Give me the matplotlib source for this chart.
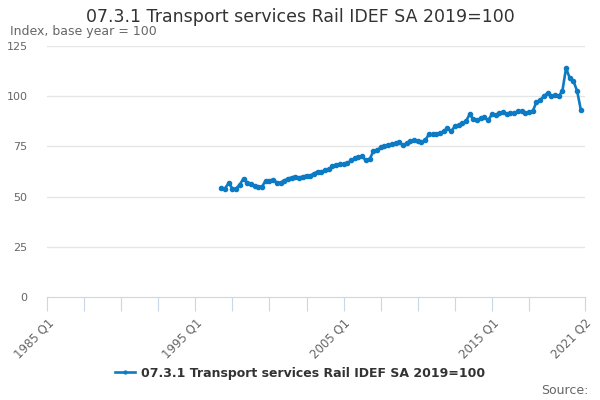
import matplotlib
matplotlib.use("Agg")
import matplotlib.pyplot as plt

# ================= DATA =================
title = "07.3.1 Transport services Rail IDEF SA 2019=100"
subtitle = "Index, base year = 100"

# quarterly categories 1985 Q1 .. 2021 Q2
years = list(range(1985, 2022))
quarters = ["Q1", "Q2", "Q3", "Q4"]
categories = [f"{y} {q}" for y in years for q in quarters][:146]

# series starts at 1996 Q4 (category index 47)
first_index = 47
values = [
    54.3, 54, 56.8, 54, 54, 56, 59, 57, 56.5, 55.5,
    55, 55, 58, 58, 58.5, 57, 57, 58, 59, 59.5,
    60, 59.5, 60, 60.5, 60.5, 61.5, 62.5, 62.5, 63, 63.5,
    65, 65.5, 66, 66, 66.5, 68, 69, 69.5, 70, 68,
    68.5, 72.5, 73, 74.5, 75, 75.5, 76, 76.5, 77, 75.5,
    76.5, 77.5, 78, 77.5, 77, 78, 81, 81, 81, 81.5,
    82.5, 84, 82.5, 85, 85.5, 86.5, 87.5, 91, 88.5, 88,
    89, 89.5, 88, 91, 90.5, 91.5, 92, 91, 91.5, 91.5,
    92.5, 92.5, 91.5, 92, 92.5, 97, 98, 100, 101.5, 100,
    100.5, 100, 102.5, 114, 109, 107.5, 102.5, 93,
]

tick_idx = [0, 10, 20, 30, 40, 50, 60, 70, 80, 90, 100, 110, 120, 130, 145]
label_idx = [0, 40, 80, 120, 145]
y_ticks = [0, 25, 50, 75, 100, 125]

# ================= PLOT =================
line_color = "#0c7bc4"
grey = "#666666"

fig = plt.figure(figsize=(6, 4), dpi=100)
ax = fig.add_axes([47 / 600, 103 / 400, (584.6 - 47) / 600, 251 / 400])

xs = list(range(first_index, first_index + len(values)))
ax.plot(xs, values, color=line_color, linewidth=1.9, marker="o", markersize=3,
        label=title, zorder=3)

ax.set_xlim(0, len(categories) - 1)
ax.set_ylim(0, 125)

ax.set_yticks(y_ticks)
ax.set_yticklabels([str(v) for v in y_ticks], color=grey, fontsize=8)
ax.tick_params(axis="y", length=0, pad=14)
for v in y_ticks[1:]:
    ax.axhline(v, color="#e6e6e6", linewidth=1, zorder=1)

ax.set_xticks(tick_idx)
ax.set_xticklabels([categories[i] if i in label_idx else "" for i in tick_idx],
                   rotation=45, ha="right", rotation_mode="anchor",
                   color=grey, fontsize=8.5)
ax.tick_params(axis="x", length=10, color="#ccd6eb", pad=4)

for side in ["top", "right", "left"]:
    ax.spines[side].set_visible(False)
ax.spines["bottom"].set_color("#ccd6eb")

fig.text(0.5, 1 - 17 / 400, title, ha="center", va="center",
         fontsize=12.5, color="#333333")
fig.text(10 / 600, 1 - 32 / 400, subtitle, ha="left", va="center",
         fontsize=9, color=grey)

leg = fig.legend(loc="center", bbox_to_anchor=(0.5, 1 - 373 / 400), frameon=False,
                 prop={"weight": "bold", "size": 9}, handlelength=1.6,
                 handletextpad=0.5, markerscale=0.7)
for t in leg.get_texts():
    t.set_color("#333333")

fig.text(589 / 600, 1 - 390 / 400, "Source:", ha="right", va="center",
         fontsize=9, color=grey)

fig.savefig("out.png", dpi=100)
